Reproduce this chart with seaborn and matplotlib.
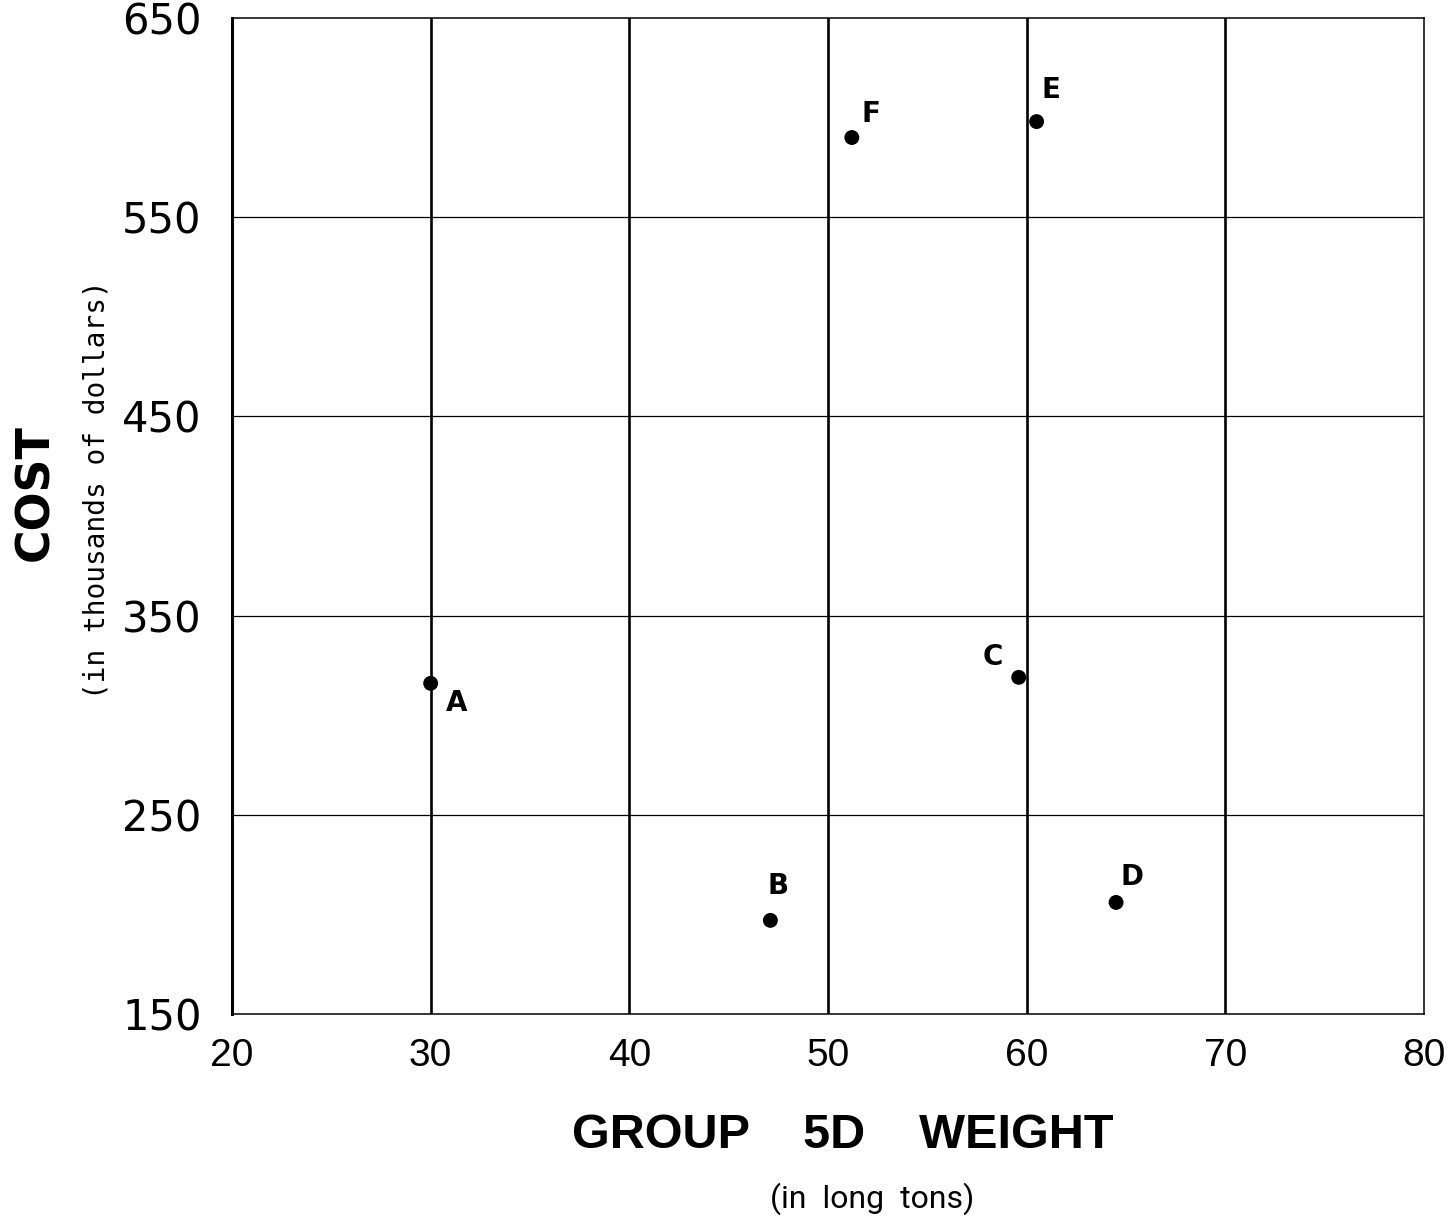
import matplotlib
matplotlib.use("Agg")
import matplotlib.pyplot as plt
import seaborn as sns
import pandas as pd

# Ship design alternatives: group 5D weight vs. cost
designs = ["A", "B", "C", "D", "E", "F"]
weight_tons = [30.0, 47.1, 59.6, 64.5, 60.5, 51.2]
cost_thousands = [316, 197, 319, 206, 598, 590]

x_ticks = [20, 30, 40, 50, 60, 70, 80]
y_ticks = [150, 250, 350, 450, 550, 650]

# label offsets in pixels (dx right, dy up) relative to each point
label_dx = [26, 8, -26, 16, 14, 19]
label_dy = [-20, 34, 20, 25, 32, 24]

df = pd.DataFrame({"design": designs, "weight": weight_tons, "cost": cost_thousands})

sns.set_theme(style="white")
plt.rcParams["font.family"] = ["Liberation Sans", "DejaVu Sans"]

fig = plt.figure(figsize=(14.56, 12.22), dpi=100)
ax = fig.add_axes([232 / 1456, 1 - 1014 / 1222, (1424 - 232) / 1456, (1014 - 18) / 1222])

sns.scatterplot(data=df, x="weight", y="cost", ax=ax, color="black",
                s=115, edgecolor="none", zorder=5, legend=False)

ax.set_xlim(20, 80)
ax.set_ylim(150, 650)

# heavy vertical rules, light horizontal rules
for xv in x_ticks[1:-1]:
    ax.axvline(xv, color="black", lw=1.9, zorder=1)
for yv in y_ticks[1:-1]:
    ax.axhline(yv, color="black", lw=0.9, zorder=1)

for side in ["top", "right", "bottom"]:
    ax.spines[side].set_color("black")
    ax.spines[side].set_linewidth(1.1)
ax.spines["left"].set_color("black")
ax.spines["left"].set_linewidth(2.2)

ax.set_xticks(x_ticks)
ax.set_yticks(y_ticks)
ax.set_xticklabels([str(v) for v in x_ticks], fontsize=28,
                   family=["Liberation Sans", "DejaVu Sans"])
ax.set_yticklabels([str(v) for v in y_ticks], fontsize=30,
                   family=["DejaVu Sans"])
ax.tick_params(axis="x", length=0, pad=17, colors="black")
ax.tick_params(axis="y", length=0, pad=22, colors="black")

for name, xv, yv, dx, dy in zip(designs, weight_tons, cost_thousands, label_dx, label_dy):
    ax.annotate(name, (xv, yv), xytext=(dx, dy), textcoords="offset pixels",
                ha="center", va="center", fontsize=20, fontweight="heavy",
                family=["DejaVu Sans"], color="black", zorder=6)

ax.set_xlabel("")
ax.set_ylabel("")

# axis titles
fig.text(843 / 1456, 1 - 1135 / 1222, "GROUP    5D    WEIGHT", ha="center", va="center",
         fontsize=35, fontweight="bold", color="black", family=["Liberation Sans"])
fig.text(872 / 1456, 1 - 1199 / 1222, "(in  long  tons)", ha="center", va="center",
         fontsize=23, color="black", family=["Roboto", "Liberation Sans"])
fig.text(36 / 1456, 1 - 493 / 1222, "COST", ha="center", va="center", rotation=90,
         fontsize=33, fontweight="bold", color="black", family=["DejaVu Sans"])
fig.text(97 / 1456, 1 - 490 / 1222, "(in thousands of dollars)", ha="center", va="center",
         rotation=90, fontsize=20, color="black", family=["DejaVu Sans Mono"])

fig.savefig("out.png", dpi=100, facecolor="white")
